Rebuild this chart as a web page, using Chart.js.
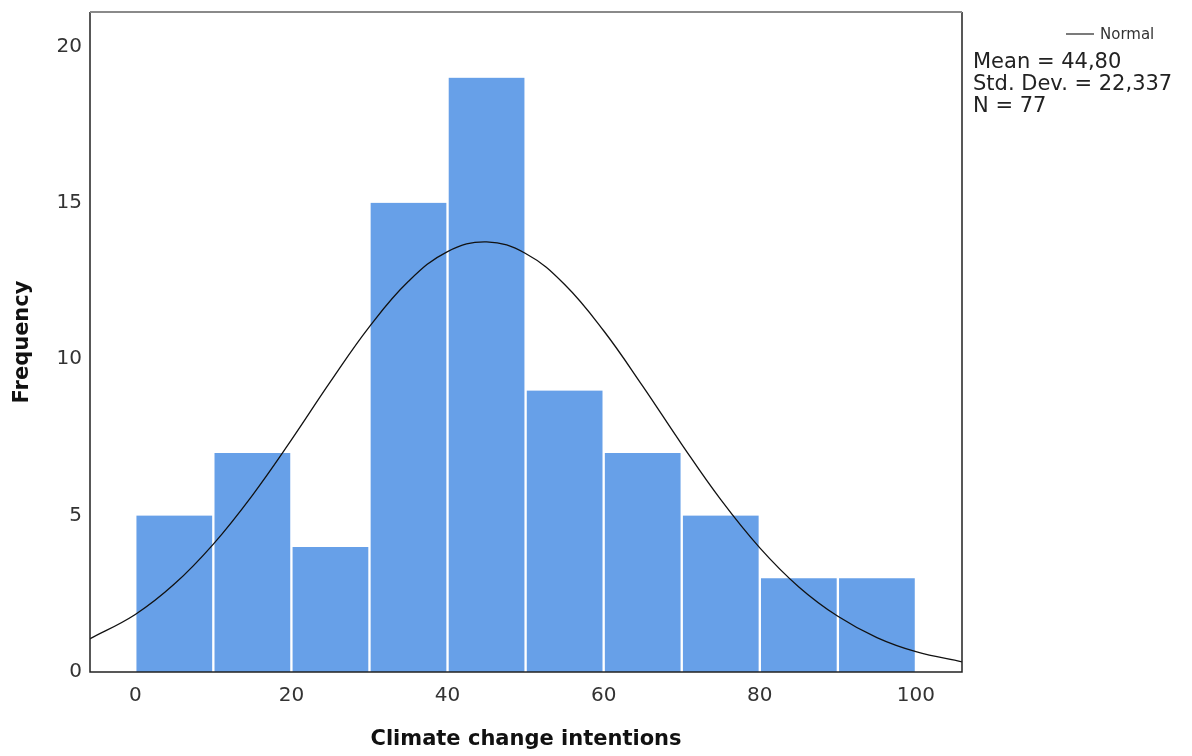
<!DOCTYPE html>
<html>
<head>
<meta charset="utf-8">
<script src="https://cdn.jsdelivr.net/npm/chart.js@4"></script>
<style>
  html, body { margin: 0; padding: 0; background: #ffffff; }
  #wrap { width: 1192px; height: 756px; position: relative; }
</style>
</head>
<body>
<div id="wrap"><canvas id="c" width="1192" height="756"></canvas></div>
<script>
// ---- data ----
const binMids = [5, 15, 25, 35, 45, 55, 65, 75, 85, 95];
const frequencies = [5, 7, 4, 15, 19, 9, 7, 5, 3, 3];
const curveX = [-6, 0, 5, 10, 15, 20, 25, 30, 35, 40, 45, 50, 55, 60, 65, 70, 75, 80, 85, 90, 95, 100, 106];
const curveY = [1.04, 1.84, 2.81, 4.09, 5.65, 7.42, 9.28, 11.04, 12.49, 13.44, 13.75, 13.38, 12.39, 10.91, 9.14, 7.28, 5.51, 3.97, 2.72, 1.78, 1.10, 0.65, 0.32];
const xTicks = [0, 20, 40, 60, 80, 100];
const yTicks = [0, 5, 10, 15, 20];
const legendLabel = 'Normal';
const statsLines = ['Mean = 44,80', 'Std. Dev. = 22,337', 'N = 77'];
const xTitle = 'Climate change intentions';
const yTitle = 'Frequency';

const FONT = "'DejaVu Sans', 'Liberation Sans', sans-serif";

const framePlugin = {
  id: 'frame',
  afterDatasetsDraw(chart) {
    const {ctx, chartArea: a} = chart;
    ctx.save();
    ctx.lineWidth = 1.5;
    ctx.strokeStyle = '#222';
    ctx.beginPath();
    ctx.moveTo(a.left, a.top);
    ctx.lineTo(a.left, a.bottom);
    ctx.lineTo(a.right, a.bottom);
    ctx.lineTo(a.right, a.top);
    ctx.stroke();
    ctx.strokeStyle = '#8a8a8a';
    ctx.lineWidth = 2;
    ctx.beginPath();
    ctx.moveTo(a.left, a.top);
    ctx.lineTo(a.right, a.top);
    ctx.stroke();
    ctx.restore();
  },
  afterDraw(chart) {
    const {ctx} = chart;
    ctx.save();
    ctx.strokeStyle = '#222';
    ctx.lineWidth = 1.2;
    ctx.beginPath();
    ctx.moveTo(1066, 34);
    ctx.lineTo(1094, 34);
    ctx.stroke();
    ctx.fillStyle = '#333';
    ctx.font = '15px ' + FONT;
    ctx.textBaseline = 'middle';
    ctx.textAlign = 'left';
    ctx.fillText(legendLabel, 1100, 35);
    ctx.font = '21px ' + FONT;
    ctx.fillStyle = '#222';
    statsLines.forEach((t, i) => ctx.fillText(t, 973, 63 + i * 22));
    ctx.restore();
  }
};

new Chart(document.getElementById('c'), {
  data: {
    datasets: [
      {
        type: 'line',
        label: legendLabel,
        data: curveX.map((x, i) => ({x: x, y: curveY[i]})),
        borderColor: '#111',
        borderWidth: 1.3,
        pointRadius: 0,
        tension: 0.4,
        fill: false,
        order: 0
      },
      {
        type: 'bar',
        label: 'Frequency',
        data: binMids.map((x, i) => ({x: x, y: frequencies[i]})),
        backgroundColor: 'rgb(103,160,232)',
        borderColor: '#ffffff',
        borderWidth: {left: 1.5, right: 1.5, top: 0, bottom: 0},
        barPercentage: 1,
        categoryPercentage: 1,
        order: 1
      }
    ]
  },
  options: {
    responsive: false,
    animation: false,
    layout: {padding: {top: 12, right: 230, left: 0, bottom: 0}},
    plugins: {legend: {display: false}, tooltip: {enabled: false}},
    scales: {
      x: {
        type: 'linear',
        offset: false,
        min: -5.8,
        max: 105.9,
        grid: {display: false, drawTicks: false, offset: false},
        border: {display: false},
        afterBuildTicks: s => { s.ticks = xTicks.map(v => ({value: v})); },
        afterFit: s => { s.height = 84; s.paddingLeft = 0; s.paddingRight = 0; },
        ticks: {color: '#333', padding: 12, font: {family: FONT, size: 20}},
        title: {display: true, text: xTitle, color: '#111', padding: {top: 4, bottom: 4}, font: {family: FONT, size: 21, weight: 'bold'}}
      },
      y: {
        type: 'linear',
        min: 0,
        max: 21.1,
        grid: {display: false, drawTicks: false},
        border: {display: false},
        afterBuildTicks: s => { s.ticks = yTicks.map(v => ({value: v})); },
        afterFit: s => { s.width = 90; s.paddingTop = 0; s.paddingBottom = 0; },
        ticks: {color: '#333', padding: 8, font: {family: FONT, size: 20}},
        title: {display: true, text: yTitle, color: '#111', padding: {top: 10, bottom: 4}, font: {family: FONT, size: 21, weight: 'bold'}}
      }
    }
  },
  plugins: [framePlugin]
});
</script>
</body>
</html>
